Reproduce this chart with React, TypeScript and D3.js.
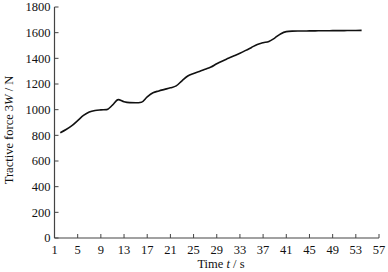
import React from "react";
import * as d3 from "d3";

const times = [2,3,4,5,6,7,8,9,10,11,12,13,14,15,16,17,18,19,20,21,22,23,24,25,26,27,28,29,30,31,32,33,34,35,36,37,38,39,40,41,42,43,44,45,46,47,48,49,50,51,52,53,54];
const forces = [820,845,875,915,955,982,994,998,1000,1035,1078,1062,1055,1054,1058,1100,1132,1146,1158,1170,1185,1225,1262,1282,1298,1315,1332,1358,1380,1400,1420,1440,1462,1485,1508,1522,1532,1558,1590,1608,1612,1613,1613,1614,1614,1615,1615,1616,1616,1616,1617,1617,1618];
const xTicks = [1,5,9,13,17,21,25,29,33,37,41,45,49,53,57];
const yTicks = [0,200,400,600,800,1000,1200,1400,1600,1800];

export default function App() {
  const W = 388, H = 272;
  const x = d3.scaleLinear().domain([1, 57]).range([54.5, 379]);
  const y = d3.scaleLinear().domain([0, 1800]).range([238, 7]);
  const line = d3.line<number>().x((_, i) => x(times[i])).y((d) => y(d)).curve(d3.curveMonotoneX);
  const font = "'Liberation Serif', 'Times New Roman', serif";
  const axisColor = "#444";
  return (
    <svg width={W} height={H} style={{ position: "absolute", left: 0, top: 0, background: "#fff" }} fontFamily={font}>
      <line x1={x(1)} x2={x(57)} y1={y(0)} y2={y(0)} stroke={axisColor} strokeWidth={1.2} />
      <line x1={x(1)} x2={x(1)} y1={y(0)} y2={y(1800)} stroke={axisColor} strokeWidth={1.2} />
      {xTicks.map((t) => (
        <g key={t}>
          <line x1={x(t)} x2={x(t)} y1={y(0)} y2={y(0) - 4} stroke={axisColor} strokeWidth={1} />
          <text x={x(t)} y={254} fontSize={12.5} textAnchor="middle" fill="#111">{t}</text>
        </g>
      ))}
      {yTicks.map((v) => (
        <g key={v}>
          <line x1={x(1)} x2={x(1) + 4} y1={y(v)} y2={y(v)} stroke={axisColor} strokeWidth={1} />
          <text x={50.5} y={y(v) + 4.3} fontSize={12.5} textAnchor="end" fill="#111">{v}</text>
        </g>
      ))}
      <path d={line(forces) || ""} fill="none" stroke="#111" strokeWidth={1.6} />
      <text x={221} y={268} fontSize={12.5} textAnchor="middle" fill="#111">
        Time <tspan fontStyle="italic">t</tspan> / s
      </text>
      <text transform={`translate(13,130) rotate(-90)`} fontSize={12.5} textAnchor="middle" fill="#111">
        Tractive force 3<tspan fontStyle="italic">W</tspan> / N
      </text>
    </svg>
  );
}
